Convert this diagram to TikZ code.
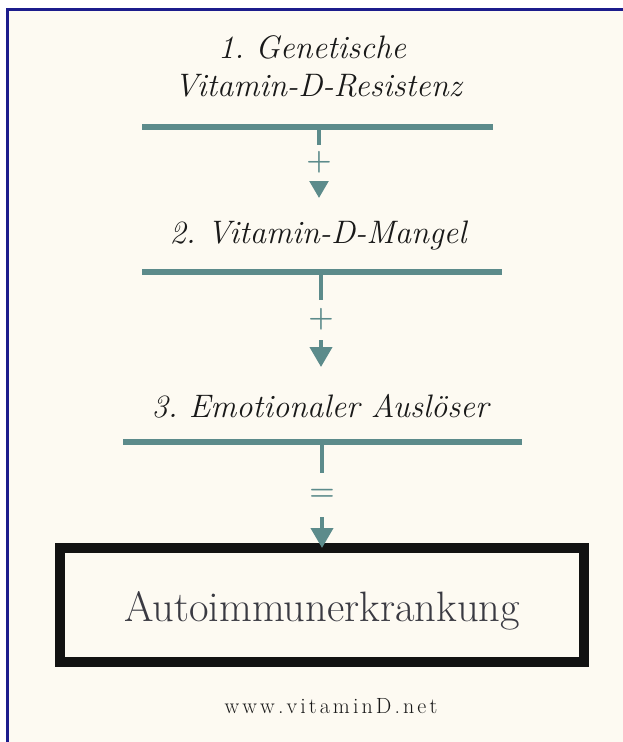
\documentclass[tikz,border=0pt]{standalone}
\usepackage{fontspec}
\usetikzlibrary{arrows.meta}
\usetikzlibrary{positioning}

\definecolor{cream}{RGB}{253,250,242}
\definecolor{framenavy}{RGB}{28,28,140}
\definecolor{flowteal}{RGB}{92,139,139}
\definecolor{ink}{RGB}{25,25,25}
\definecolor{boxink}{RGB}{58,58,66}

\newfontfamily\sitefont{Latin Modern Roman}[LetterSpace=14]
\frenchspacing
\tikzset{
  stage/.style={font=\fontsize{32.5}{38}\selectfont\itshape, text=ink, inner sep=0pt, anchor=base},
  bar/.style={draw=flowteal, line width=6pt},
  flow/.style={draw=flowteal, line width=4pt, -{Triangle[width=22pt,length=20pt]}},
  sign/.style={fill=cream, text=flowteal, font=\fontsize{29}{29}\selectfont\bfseries, inner sep=0pt, minimum height=36pt},
  diseasebox/.style={draw=black!93, line width=10pt, outer sep=0pt, minimum width=524pt, minimum height=114pt},
  diseasetext/.style={font=\fontsize{42.5}{48}\selectfont, text=boxink, inner sep=0pt, anchor=base},
}

\begin{document}
\begin{tikzpicture}[x=1pt,y=-1pt]
      \useasboundingbox (0,0) rectangle (623,742);
      \fill[white] (0,0) rectangle (623,742);
      \fill[cream] (7,9) rectangle (623,742);
      \draw[framenavy,line width=3pt] (7,742) -- (7,9) -- (623,9);

      % stages
      \node (stage1a) [stage] at (312,58) {1. Genetische};
      \node (stage1b) [stage] at (318,96) {Vitamin-D-Resistenz};
      \node (stage2) [stage] at (318,243) {2. Vitamin-D-Mangel};
      \node (stage3) [stage] at (320,417) {3. Emotionaler Auslöser};

      \draw[bar] (142,127) coordinate (bar1w) -- (493,127) coordinate (bar1e);
      \draw[bar] (142,272) coordinate (bar2w) -- (502,272) coordinate (bar2e);
      \draw[bar] (123,442) coordinate (bar3w) -- (522,442) coordinate (bar3e);

      % result
      \node (disease) [diseasebox] at (322,605) {};
      \node (diseasename) [diseasetext] at (322,621) {Autoimmunerkrankung};

      \coordinate (src1) at (319,127);
      \coordinate (tip1) at (319,198);
      \coordinate (src2) at (321,272);
      \coordinate (tip2) at (321,367);
      \coordinate (src3) at (322,442);

      \draw[flow] (src1) -- node[sign] {+} (tip1);
      \draw[flow] (src2) -- node[sign,minimum height=40pt] {+} (tip2);
      \draw[flow] (src3) -- node[sign,minimum height=44pt] {=} (disease.north);

      \node (site) [font=\sitefont\fontsize{22}{26}\selectfont, text=ink, inner sep=0pt, anchor=base] at (331,713) {www.vitaminD.net};
    \end{tikzpicture}
\end{document}
